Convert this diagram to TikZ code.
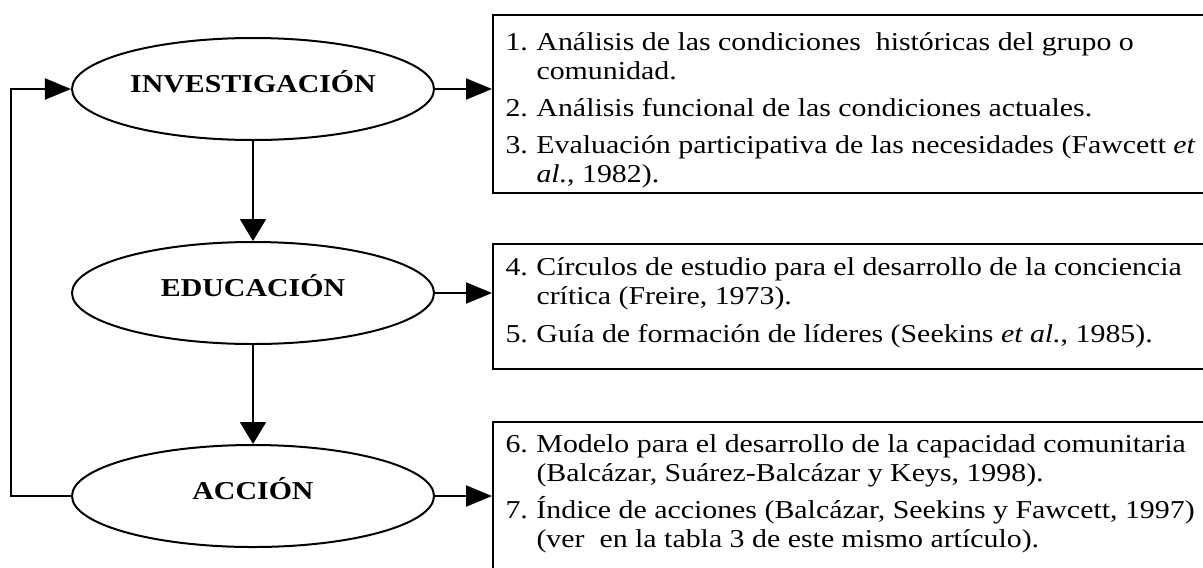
\documentclass[tikz,border=0pt]{standalone}
\usepackage{fontspec}
\setmainfont{Liberation Serif}[FakeStretch=1.16]
\usetikzlibrary{shapes.geometric,arrows.meta}

\tikzset{
  stage/.style={ellipse, draw, line width=0.8pt, minimum width=144.8pt,
    minimum height=40.8pt, inner sep=0pt, text height=7.5pt, text depth=5.1pt,
    font=\fontsize{10.3}{11.4}\selectfont\bfseries},
  listbox/.style={draw, line width=0.9pt, anchor=north west,
    minimum width=300pt, inner sep=0pt},
  listtext/.style={anchor=base west, align=left, inner sep=0pt,
    font=\fontsize{10.3}{11.4}\selectfont},
  hflow/.style={line width=0.8pt, -{Triangle[length=10.4pt,width=8.4pt]}},
  vflow/.style={line width=0.8pt, -{Triangle[length=8.8pt,width=10.4pt]}}
}
\newcommand{\listnum}[1]{\makebox[12.4pt][l]{#1}}

\begin{document}
\begin{tikzpicture}[x=0.4pt,y=-0.4pt]
\useasboundingbox (0,0) rectangle (1203,567);
\clip (0,0) rectangle (1203,567);

% the three stages
\node[stage] (inv) at (253,89) {INVESTIGACIÓN};
\node[stage] (edu) at (253,293) {EDUCACIÓN};
\node[stage] (acc) at (253,496) {ACCIÓN};

% boxes with the instruments
\node[listbox, minimum height=71.2pt] (box1) at (492,14) {};
\node[listbox, minimum height=50pt] (box2) at (492,243) {};
\node[listbox, minimum height=70pt] (box3) at (492,421) {};

% (base anchor = last line)
\node[listtext] (list1) at (505,182) {%
  \listnum{1.}Análisis de las condiciones~ históricas del grupo o\\
  \listnum{}comunidad.\\[3.5pt]
  \listnum{2.}Análisis funcional de las condiciones actuales.\\[3.5pt]
  \listnum{3.}Evaluación participativa de las necesidades (Fawcett \textit{et}\\
  \listnum{}\textit{al.}, 1982).};
\node[listtext] (list2) at (505,342) {%
  \listnum{4.}Círculos de estudio para el desarrollo de la conciencia\\
  \listnum{}crítica (Freire, 1973).\\[3.8pt]
  \listnum{5.}Guía de formación de líderes (Seekins \textit{et al.}, 1985).};
\node[listtext] (list3) at (505,547) {%
  \listnum{6.}Modelo para el desarrollo de la capacidad comunitaria\\
  \listnum{}(Balcázar, Suárez-Balcázar y Keys, 1998).\\[3.5pt]
  \listnum{7.}Índice de acciones (Balcázar, Seekins y Fawcett, 1997)\\
  \listnum{}(ver~ en la tabla 3 de este mismo artículo).};

% connectors
\draw[vflow] (inv) -- (edu);
\draw[vflow] (edu) -- (acc);
\draw[hflow] (inv.east) -- (inv.east -| box1.west);
\draw[hflow] (edu.east) -- (edu.east -| box2.west);
\draw[hflow] (acc.east) -- (acc.east -| box3.west);
\draw[hflow] (acc.west) -- ++(-60,0) |- (inv.west);
\end{tikzpicture}
\end{document}
